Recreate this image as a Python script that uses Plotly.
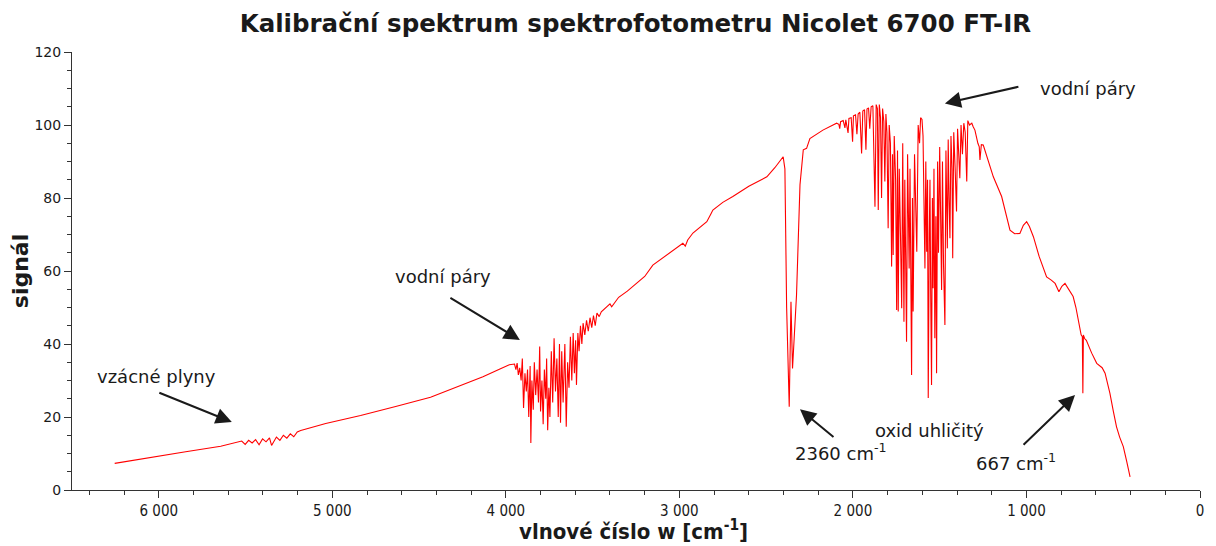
import plotly.graph_objects as go

# spektrum: vlnocet [cm-1] a signal, odecteno z obrazku po usecich
wn_base = [6254, 6046, 5845, 5643, 5560,
           5522, 5502, 5482, 5462, 5442, 5422, 5402, 5382, 5362, 5350, 5322, 5302,
           5282, 5262, 5242, 5222, 5202, 5182,
           5038, 4837, 4709, 4635, 4434, 4232, 4132, 4031, 3980]
sig_base = [7.3, 9.0, 10.5, 12.0, 13.0,
            13.4, 12.5, 13.6, 12.9, 13.8, 12.4, 14.0, 13.2, 14.3, 12.2, 14.5, 13.6,
            15.0, 14.2, 15.4, 14.6, 15.9, 16.3,
            18.2, 20.4, 21.9, 22.9, 25.4, 29.0, 31.0, 33.2, 34.3]

wn_water1 = [3950, 3942, 3935, 3928, 3920, 3912, 3905, 3898, 3890, 3882, 3875, 3868,
             3860, 3856, 3850, 3842, 3836, 3828, 3820, 3812, 3805, 3800, 3792, 3785,
             3778, 3770, 3765, 3759, 3752, 3746, 3738, 3730, 3722, 3714, 3706, 3698,
             3691, 3685, 3678, 3670, 3660, 3652, 3644, 3636, 3628, 3620, 3612, 3605,
             3598, 3593, 3585, 3578, 3570, 3562, 3555, 3545, 3535, 3525, 3515, 3505,
             3495, 3485, 3475, 3462, 3450, 3426, 3400, 3390, 3350, 3300, 3268, 3200,
             3153, 3100, 3037, 2980, 2966, 2952, 2922, 2870, 2842, 2820, 2807, 2750,
             2692, 2600, 2496, 2450, 2402]
sig_water1 = [34.5, 33.0, 34.8, 31.5, 33.5, 30.0, 36.0, 22.5, 32.0, 27.0, 33.0, 20.0,
              34.0, 12.9, 30.0, 22.0, 35.0, 26.0, 33.0, 24.0, 39.3, 21.5, 30.0, 18.0,
              33.0, 25.0, 36.0, 16.4, 28.0, 20.0, 38.0, 24.0, 41.6, 27.0, 36.0, 20.0,
              40.0, 18.4, 38.0, 24.0, 40.0, 17.3, 35.0, 28.0, 42.0, 30.0, 43.0, 32.0,
              41.0, 28.8, 43.0, 38.0, 45.0, 40.0, 45.7, 42.5, 46.5, 43.5, 47.2, 44.5,
              47.8, 45.0, 48.5, 47.5, 48.8, 49.8, 51.0, 50.2, 52.8, 54.5, 55.7, 58.5,
              61.6, 63.5, 65.8, 67.6, 66.8, 68.5, 70.4, 72.5, 73.5, 75.5, 76.7, 78.8,
              80.4, 83.2, 85.8, 88.3, 91.3]

wn_co2 = [2392, 2382, 2367, 2357, 2348, 2338, 2325, 2305, 2286, 2267, 2248, 2173, 2116, 2094]
sig_co2 = [88.0, 50.0, 22.8, 51.6, 33.3, 42.0, 53.4, 83.6, 93.2, 93.6, 96.3, 98.6, 100.0, 100.5]

wn_water2 = [2081, 2076, 2071, 2056, 2046, 2041, 2028, 2023, 2010, 2002, 1997, 1985,
             1977, 1970, 1960, 1950, 1943, 1933, 1925, 1919, 1910, 1903, 1895, 1885,
             1873, 1866, 1859, 1854, 1848, 1841, 1835, 1829, 1822, 1816, 1810, 1804,
             1797, 1791, 1784, 1777, 1772, 1768, 1762, 1754, 1748, 1743, 1739, 1733,
             1726, 1719, 1713, 1706, 1701, 1696, 1691, 1685, 1676, 1671, 1662, 1657,
             1653, 1645, 1639, 1632, 1624, 1616, 1610, 1602, 1596, 1590, 1585, 1580,
             1575, 1570, 1566, 1560, 1556, 1552, 1547, 1542, 1538, 1533, 1528, 1522,
             1518, 1512, 1507, 1500, 1494, 1489, 1484, 1478, 1470, 1464, 1456, 1451,
             1446, 1441, 1435, 1429, 1425, 1419, 1411, 1403, 1397, 1391, 1384, 1377,
             1369, 1361, 1353, 1344, 1338, 1328, 1315, 1307, 1297, 1280, 1272, 1268,
             1260, 1249]
sig_water2 = [100.2, 99.0, 100.9, 101.2, 99.2, 101.4, 97.8, 101.8, 102.0, 95.4, 102.5, 102.8,
              97.5, 103.0, 103.5, 92.2, 103.8, 104.2, 93.2, 104.4, 104.7, 99.0, 105.0, 105.3,
              77.6, 105.6, 104.5, 76.7, 105.6, 102.0, 80.0, 104.5, 101.0, 84.5, 103.0, 98.0,
              71.7, 100.0, 95.0, 61.2, 92.0, 64.4, 97.0, 85.0, 49.3, 93.0, 48.9, 88.0,
              70.0, 49.8, 95.0, 46.1, 85.0, 60.0, 40.6, 92.0, 60.7, 88.0, 31.5, 80.0,
              48.9, 92.0, 75.0, 65.3, 100.0, 95.0, 102.0, 101.5, 97.0, 78.0, 60.7, 90.0,
              65.3, 85.0, 25.2, 70.0, 85.0, 55.0, 28.8, 80.0, 55.3, 88.0, 41.6, 75.0,
              32.0, 90.0, 65.0, 94.0, 70.0, 54.8, 90.0, 62.0, 45.2, 93.0, 66.2, 96.0,
              80.0, 69.0, 97.0, 88.0, 63.5, 98.0, 88.0, 76.3, 99.0, 93.0, 85.4, 100.0,
              92.0, 100.5, 98.0, 84.5, 101.2, 100.0, 100.5, 99.5, 98.6, 95.0, 94.0, 90.4,
              94.6, 94.5]

wn_tail = [1219, 1191, 1143, 1118, 1095, 1068, 1038, 1018, 999, 983, 960, 927, 884, 857,
           835, 813, 796, 778, 756, 731, 715, 701, 685, 678, 675, 672, 665, 655, 644, 624,
           595, 564, 547, 534, 519, 499, 481, 463, 442, 423, 403]
sig_tail = [90.0, 85.8, 80.4, 76.0, 71.2, 70.2, 70.3, 72.5, 73.5, 72.2, 69.4, 64.0, 58.4, 57.5,
            56.6, 54.3, 55.8, 56.6, 55.0, 53.0, 50.0, 46.6, 42.5, 42.0, 26.5, 42.5, 41.5, 41.0,
            39.7, 37.5, 34.7, 33.5, 32.0, 29.5, 26.5, 21.5, 17.3, 14.5, 11.9, 8.0, 3.6]

x_ticks = [6000, 5000, 4000, 3000, 2000, 1000, 0]
x_labels = ["6 000", "5 000", "4 000", "3 000", "2 000", "1 000", "0"]

wn = wn_base + wn_water1 + wn_co2 + wn_water2 + wn_tail
sig = sig_base + sig_water1 + sig_co2 + sig_water2 + sig_tail

TXT = "#1a1a1a"
FONT = "DejaVu Sans"
NARROW = "Liberation Sans Narrow, DejaVu Sans Condensed, DejaVu Sans"

fig = go.Figure()
fig.add_trace(go.Scatter(x=wn, y=sig, mode="lines",
                         line=dict(color="#ff0000", width=1.1), showlegend=False))

# popisky
labels = [
    ("vzácné plyny", 6012, 31.2),
    ("vodní páry", 4363, 58.6),
    ("vodní páry", 646, 110.1),
    ("2360 cm<sup>-1</sup>", 2069, 10.4),
    ("oxid uhličitý", 1556, 16.4),
    ("667 cm<sup>-1</sup>", 1061, 7.7),
]
for txt, x, y in labels:
    fig.add_annotation(x=x, y=y, text=txt, showarrow=False,
                       font=dict(family=FONT, size=18, color=TXT))

# sipky (hlava v datech, ocas v pixelech)
arrows = [(5579, 18.6, -74, -30), (3919, 41.1, -71, -43), (1470, 105.9, 75, -17),
          (2305, 22.1, 35, 29), (720, 26.0, -53, 51)]
for x, y, ax, ay in arrows:
    fig.add_annotation(x=x, y=y, ax=ax, ay=ay, text="", showarrow=True,
                       arrowhead=2, arrowsize=1.6, arrowwidth=2, arrowcolor=TXT)

# popis osy x jako anotace, aby sedel pod popisky tiku
fig.add_annotation(x=0.5, y=0, xref="paper", yref="paper", xshift=-3, yshift=-40,
                   yanchor="middle", showarrow=False,
                   text="<b>vlnové číslo w [cm<sup>-1</sup>]</b>",
                   font=dict(family=NARROW, size=22, color=TXT))

# stranka ma 8px okraj, proto jsou okraje grafu posunute
fig.update_layout(
    width=1216, height=546,
    margin=dict(l=64, r=24, t=44, b=64),
    plot_bgcolor="white", paper_bgcolor="white",
    title=dict(text="<b>Kalibrační spektrum spektrofotometru Nicolet 6700 FT-IR</b>",
               x=0.516, xanchor="center", yref="container", y=0.971, yanchor="middle",
               font=dict(family=FONT, size=24.5, color=TXT)),
)
fig.update_xaxes(range=[6500, 0], tickvals=x_ticks, ticktext=x_labels, automargin=False,
                 showgrid=False, zeroline=False, showline=True, linecolor="#333",
                 ticks="outside", ticklen=7, tickcolor="#333",
                 minor=dict(dtick=200, ticks="outside", ticklen=4, tickcolor="#333"),
                 tickfont=dict(family=NARROW, size=15, color=TXT))
fig.update_yaxes(range=[0, 120], dtick=20, automargin=False,
                 showgrid=False, zeroline=False, showline=True, linecolor="#333",
                 ticks="outside", ticklen=7, tickcolor="#333",
                 minor=dict(dtick=5, ticks="outside", ticklen=4, tickcolor="#333"),
                 tickfont=dict(family=FONT, size=14, color=TXT),
                 title=dict(text="<b>signál</b>", standoff=10,
                            font=dict(family=FONT, size=22, color=TXT)))

fig.write_html("out.html")
